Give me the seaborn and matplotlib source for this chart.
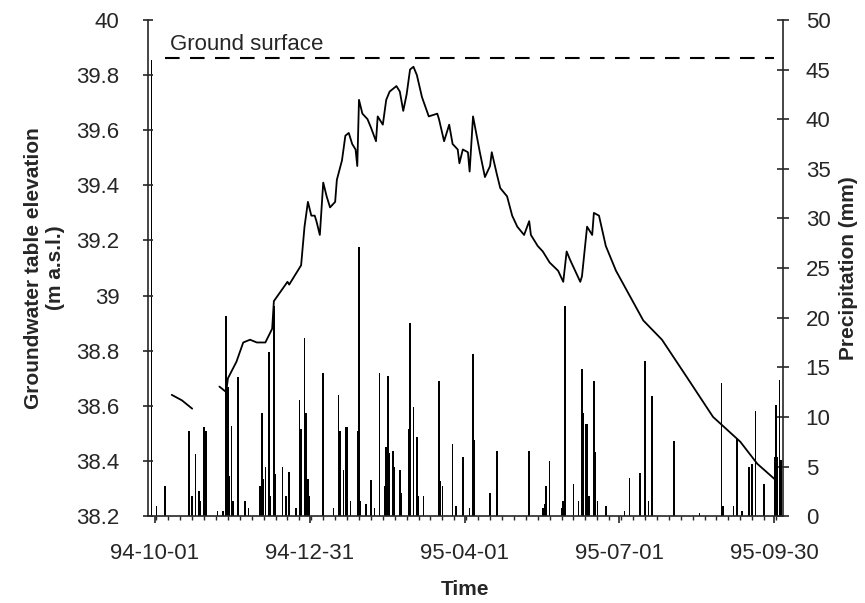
import numpy as np
import pandas as pd
import matplotlib
matplotlib.use("Agg")
import matplotlib.pyplot as plt
import matplotlib.dates as mdates
import matplotlib.ticker as mticker
import seaborn as sns

# ── Data ──────────────────────────────────────────────────────────────────────
START = pd.Timestamp("1994-10-01")

# groundwater table, days since 94-10-01 ; NaN marks the data gap
gw_day = [10, 16, 22, 30,
          38, 42, 43, 48, 52, 56, 60, 65, 69, 70, 78, 79, 83, 86, 88, 90,
          92, 94, 95, 97, 99, 101, 103, 106, 107, 110, 112, 114, 116, 118,
          119, 120, 122, 125, 127, 130, 131, 134, 136, 138, 142, 144, 146,
          148, 150, 152, 154, 157, 161, 166, 167, 170, 173, 175, 178, 179,
          181, 184, 185, 187, 191, 194, 197, 198, 201, 203, 207, 210, 213,
          217, 220, 221, 225, 228, 232, 237, 240, 242, 244, 247, 250, 251,
          254, 257, 258, 261, 265, 271, 279, 287, 298, 312, 328, 344, 354, 365]
gw_elev = [38.64, 38.62, 38.59, np.nan,
           38.67, 38.65, 38.70, 38.76, 38.83, 38.84, 38.83, 38.83, 38.88,
           38.98, 39.05, 39.04, 39.08, 39.11, 39.25, 39.34, 39.29, 39.29,
           39.27, 39.22, 39.41, 39.36, 39.32, 39.34, 39.42, 39.49, 39.58,
           39.59, 39.55, 39.53, 39.47, 39.71, 39.66, 39.64, 39.61, 39.56,
           39.65, 39.62, 39.71, 39.74, 39.76, 39.74, 39.67, 39.73, 39.82,
           39.83, 39.80, 39.72, 39.65, 39.66, 39.64, 39.56, 39.62, 39.55,
           39.53, 39.48, 39.53, 39.52, 39.45, 39.65, 39.52, 39.43, 39.47,
           39.52, 39.44, 39.39, 39.36, 39.29, 39.25, 39.22, 39.27, 39.22,
           39.18, 39.16, 39.12, 39.09, 39.05, 39.16, 39.13, 39.09, 39.05,
           39.07, 39.25, 39.22, 39.30, 39.29, 39.18, 39.09, 39.00, 38.91,
           38.84, 38.71, 38.56, 38.47, 38.39, 38.33]

# daily precipitation, days since 94-10-01
rain_day = [-2, 1, 6, 20, 22, 24, 26, 27, 29, 30, 37, 40, 42, 43, 44, 45, 46,
            49, 53, 55, 62, 63, 64, 65, 67, 68, 70, 71, 75, 77, 79, 83, 85,
            86, 88, 89, 90, 91, 99, 105, 108, 109, 111, 112, 113, 115, 119,
            120, 121, 124, 127, 129, 132, 135, 136, 137, 138, 140, 141, 144,
            145, 149, 150, 152, 154, 155, 158, 167, 168, 169, 175, 177, 181,
            185, 187, 188, 197, 201, 220, 228, 229, 230, 232, 239, 240, 241,
            246, 249, 251, 252, 253, 254, 255, 258, 259, 260, 265, 276, 279,
            285, 288, 290, 292, 305, 320, 333, 334, 340, 342, 345, 349, 351,
            353, 358, 364, 365, 366, 367, 368]
rain_mm = [46.0, 1.0, 3.0, 8.6, 2.0, 6.3, 2.5, 1.5, 9.0, 8.6, 0.5, 0.5, 20.2,
           13.0, 4.0, 9.1, 1.5, 14.0, 1.5, 0.8, 3.0, 10.4, 3.7, 5.0, 16.5,
           2.0, 21.2, 4.2, 5.0, 2.0, 4.5, 0.8, 11.7, 8.8, 18.0, 10.4, 3.7,
           2.0, 14.4, 0.8, 12.2, 8.6, 4.7, 9.0, 9.0, 1.5, 8.6, 27.1, 1.5,
           1.2, 3.6, 0.8, 14.4, 3.0, 7.0, 14.1, 6.4, 6.6, 5.0, 4.7, 2.3, 8.8,
           19.5, 11.0, 8.0, 2.0, 2.0, 13.6, 3.5, 3.0, 7.3, 1.0, 6.0, 0.8,
           16.3, 7.7, 2.3, 6.6, 6.6, 0.8, 1.2, 3.0, 5.6, 0.8, 1.5, 21.2, 3.2,
           1.5, 14.8, 10.4, 9.3, 9.3, 2.0, 13.6, 6.5, 1.5, 1.0, 0.5, 3.8,
           4.3, 15.6, 1.5, 12.1, 7.6, 0.3, 13.4, 1.0, 1.0, 7.8, 0.5, 5.0,
           5.3, 10.6, 3.2, 6.0, 11.2, 6.0, 13.7, 5.7]

ground_surface = 39.86
tick_dates = ["1994-10-01", "1994-12-31", "1995-04-01", "1995-07-01", "1995-09-30"]

# ── Frames ────────────────────────────────────────────────────────────────────
gw = pd.DataFrame({"date": START + pd.to_timedelta(gw_day, unit="D"),
                   "elev": gw_elev})
gw["segment"] = gw["elev"].isna().cumsum()
gw = gw.dropna()

rain = pd.DataFrame({"date": START + pd.to_timedelta(rain_day, unit="D"),
                     "mm": rain_mm})

# ── Plot ──────────────────────────────────────────────────────────────────────
sns.set_style("ticks")
plt.rcParams["font.family"] = ["Liberation Sans", "DejaVu Sans"]

fig = plt.figure(figsize=(8.65, 6.03), dpi=100)
ax = fig.add_axes([0.171, 0.144, 0.734, 0.823])
ax2 = ax.twinx()

# precipitation bars on the right axis
ax2.bar(rain["date"], rain["mm"], width=0.9, color="black", linewidth=0)
ax2.set_ylim(0, 50)
ax2.yaxis.set_major_locator(mticker.MultipleLocator(5))
ax2.set_ylabel("Precipitation (mm)", fontsize=15, fontweight="bold", labelpad=6)

# groundwater line on top
ax.set_zorder(ax2.get_zorder() + 1)
ax.patch.set_visible(False)
sns.lineplot(data=gw, x="date", y="elev", units="segment", estimator=None,
             color="black", linewidth=1.3, ax=ax)

xmin = START + pd.Timedelta(days=-4)
xmax = START + pd.Timedelta(days=369)
ax.hlines(ground_surface, START + pd.Timedelta(days=6), START + pd.Timedelta(days=364),
          colors="black", linestyles=(0, (7, 5)), linewidth=1.5)
ax.text(START + pd.Timedelta(days=9), ground_surface + 0.012, "Ground surface",
        fontsize=16, va="bottom", ha="left")

ax.set_xlim(xmin, xmax)
ax.set_ylim(38.2, 40)
ax.yaxis.set_major_locator(mticker.MultipleLocator(0.2))
ax.yaxis.set_major_formatter(mticker.FuncFormatter(lambda v, p: f"{v:.1f}".rstrip("0").rstrip(".")))
ax.set_xticks(pd.to_datetime(tick_dates))
ax.xaxis.set_major_formatter(mdates.DateFormatter("%y-%m-%d"))
ax.xaxis.set_minor_locator(mdates.DayLocator(interval=7))

ax.set_xlabel("Time", fontsize=15, fontweight="bold", labelpad=12)
ax.set_ylabel("Groundwater table elevation\n(m a.s.l.)", fontsize=15,
              fontweight="bold", labelpad=8)

for a in (ax, ax2):
    a.spines["top"].set_visible(False)
    for s in a.spines.values():
        s.set_linewidth(1.2)
ax.spines["right"].set_visible(False)
ax2.spines["left"].set_visible(False)
ax2.spines["bottom"].set_visible(False)

ax.tick_params(axis="y", direction="inout", length=7, width=1.2, labelsize=16, pad=17)
ax.tick_params(axis="x", which="major", direction="out", length=5, width=1.2,
               labelsize=16, pad=14)
ax.tick_params(axis="x", which="minor", direction="out", length=3, width=1)
ax2.tick_params(axis="y", direction="inout", length=9, width=1.2, labelsize=16, pad=12)

fig.savefig("out.png", dpi=100)
